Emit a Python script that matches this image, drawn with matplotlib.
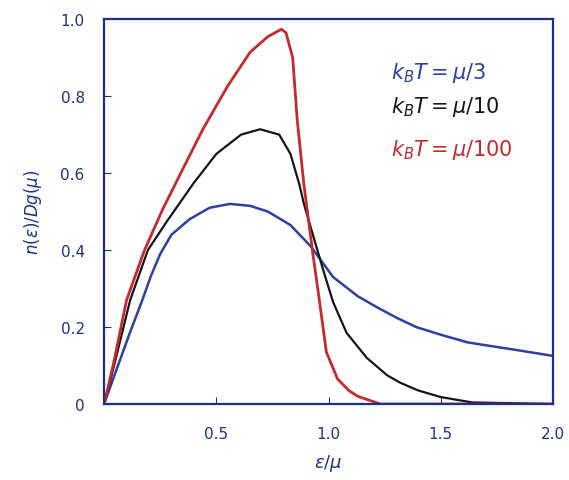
import numpy as np
import matplotlib
matplotlib.use("Agg")
import matplotlib.pyplot as plt

# values (x = e/mu, y = n(e)/Dg(mu))
x_blue = [0.0, 0.04, 0.116, 0.17, 0.21, 0.25, 0.30, 0.38, 0.47, 0.56, 0.65, 0.73, 0.83, 0.92, 1.02, 1.13, 1.22, 1.30, 1.39, 1.50, 1.62, 1.73, 1.84, 2.0]
y_blue = [0.0, 0.065, 0.187, 0.27, 0.335, 0.39, 0.44, 0.48, 0.51, 0.52, 0.515, 0.50, 0.465, 0.41, 0.33, 0.28, 0.25, 0.225, 0.20, 0.18, 0.16, 0.15, 0.14, 0.125]

x_black = [0.0, 0.04, 0.116, 0.195, 0.28, 0.34, 0.40, 0.50, 0.61, 0.695, 0.78, 0.83, 0.87, 0.89, 0.93, 0.975, 1.02, 1.08, 1.17, 1.26, 1.32, 1.40, 1.50, 1.64, 2.0]
y_black = [0.0, 0.09, 0.27, 0.40, 0.475, 0.525, 0.575, 0.65, 0.70, 0.714, 0.70, 0.65, 0.57, 0.52, 0.44, 0.35, 0.265, 0.185, 0.12, 0.075, 0.055, 0.035, 0.018, 0.004, 0.0]

x_red = [0.0, 0.04, 0.10, 0.18, 0.26, 0.35, 0.44, 0.55, 0.65, 0.73, 0.79, 0.81, 0.84, 0.86, 0.89, 0.93, 0.96, 0.99, 1.04, 1.09, 1.13, 1.23, 2.0]
y_red = [0.0, 0.10, 0.27, 0.40, 0.505, 0.61, 0.714, 0.826, 0.914, 0.955, 0.974, 0.965, 0.90, 0.74, 0.57, 0.39, 0.265, 0.135, 0.065, 0.035, 0.02, 0.0, 0.0]

labels = [r"$k_B T = \mu/3$", r"$k_B T = \mu/10$", r"$k_B T = \mu/100$"]
label_y = [0.862, 0.774, 0.662]
colors = ["#2b3fa6", "#151515", "#c62a2a"]
navy = "#1c2f8c"

fig = plt.figure(figsize=(5.69, 4.81), dpi=100)
ax = fig.add_axes([0.183, 0.158, 0.789, 0.800])

ax.plot(x_blue, y_blue, color=colors[0], lw=1.8, solid_joinstyle="round")
ax.plot(x_black, y_black, color=colors[1], lw=1.6, solid_joinstyle="round")
ax.plot(x_red, y_red, color=colors[2], lw=2.0, solid_joinstyle="round")

ax.set_xlim(0, 2.0)
ax.set_ylim(0, 1.0)
ax.set_xticks([0.5, 1.0, 1.5, 2.0])
ax.set_xticklabels(["0.5", "1.0", "1.5", "2.0"])
ax.set_yticks([0, 0.2, 0.4, 0.6, 0.8, 1.0])
ax.set_yticklabels(["0", "0.2", "0.4", "0.6", "0.8", "1.0"])
ax.tick_params(direction="in", length=5, color=navy, labelcolor=navy, labelsize=11)
ax.tick_params(axis="x", pad=16)
ax.tick_params(axis="y", pad=14)

for s in ax.spines.values():
    s.set_color(navy)
    s.set_linewidth(1.6)

ax.set_xlabel(r"$\varepsilon/\mu$", color=navy, fontsize=13, labelpad=8)
ax.set_ylabel(r"$n(\varepsilon)/Dg(\mu)$", color=navy, fontsize=12, labelpad=12)

# legend written as text inside the axes
for lab, yy, c in zip(labels, label_y, colors):
    ax.text(0.64, yy, lab, color=c, fontsize=15, transform=ax.transAxes,
            ha="left", va="center")

fig.savefig("out.png", dpi=100)
